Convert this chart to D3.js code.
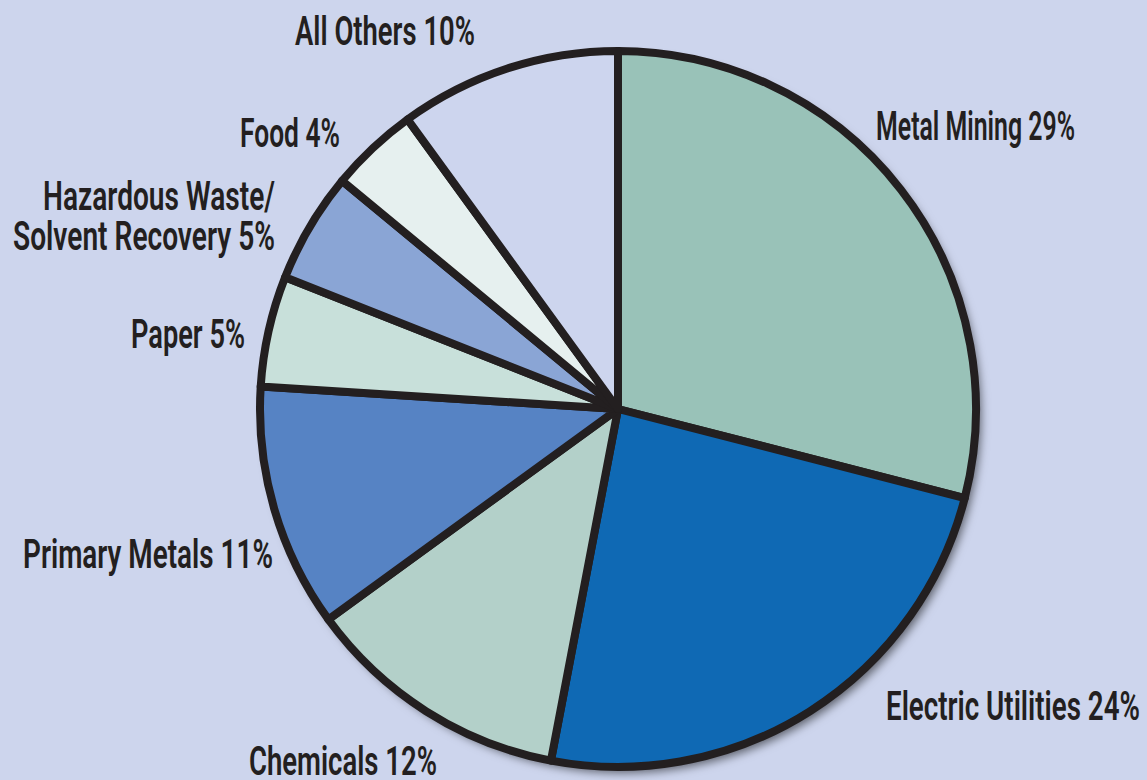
<!DOCTYPE html>
<html>
<head>
<meta charset="utf-8">
<script src="https://cdn.jsdelivr.net/npm/d3@7"></script>
<style>
  html, body { margin: 0; padding: 0; background: #cdd5ed; }
  svg { display: block; }
  .lbl { font-family: Roboto, "Liberation Sans", sans-serif; font-weight: 600; font-size: 40px; fill: #231f20; }
</style>
</head>
<body>
<div id="chart"></div>
<script>
// data, clockwise from 12 o'clock
const categories = ["Metal Mining", "Electric Utilities", "Chemicals", "Primary Metals",
                    "Paper", "Hazardous Waste/Solvent Recovery", "Food", "All Others"];
const shares = [29, 24, 12, 11, 5, 5, 4, 10];
const colors = ["#99c2b8", "#0f69b4", "#b3d0c9", "#5683c4", "#c8e0da", "#8aa5d5", "#e6f0ef", "#cdd5ee"];

// label lines as drawn (right edge x, baseline y, fitted width)
const labelLayout = [
  { lines: ["Metal Mining 29%"], x: 1075, y: 140, w: [199] },
  { lines: ["Electric Utilities 24%"], x: 1140, y: 720, w: [254] },
  { lines: ["Chemicals 12%"], x: 437, y: 775, w: [188] },
  { lines: ["Primary Metals 11%"], x: 273, y: 568, w: [250] },
  { lines: ["Paper 5%"], x: 245, y: 348, w: [114] },
  { lines: ["Hazardous Waste/", "Solvent Recovery 5%"], x: 275, y: 210, w: [232, 262] },
  { lines: ["Food 4%"], x: 340, y: 147, w: [100] },
  { lines: ["All Others 10%"], x: 475, y: 45, w: [180] }
];

const width = 1147, height = 780;
const cx = 618, cy = 409, radius = 358;

const svg = d3.select("#chart").append("svg")
    .attr("width", width)
    .attr("height", height);

svg.append("rect").attr("width", width).attr("height", height).attr("fill", "#cdd5ed");

const defs = svg.append("defs");
const filt = defs.append("filter").attr("id", "shadow")
    .attr("x", "-10%").attr("y", "-10%").attr("width", "130%").attr("height", "130%");
filt.append("feDropShadow")
    .attr("dx", 5).attr("dy", 6).attr("stdDeviation", 5)
    .attr("flood-color", "#000").attr("flood-opacity", 0.55);

const g = svg.append("g").attr("transform", `translate(${cx},${cy})`);

const pie = d3.pie().sort(null).value(d => d);
const arcs = pie(shares);
const arc = d3.arc().innerRadius(0).outerRadius(radius);

// shadow under the whole disc
g.append("circle").attr("r", radius).attr("fill", "#231f20").attr("filter", "url(#shadow)");

g.selectAll("path.slice")
    .data(arcs)
    .enter()
    .append("path")
    .attr("class", "slice")
    .attr("d", arc)
    .attr("fill", (d, i) => colors[i])
    .attr("stroke", "#231f20")
    .attr("stroke-width", 8)
    .attr("stroke-linejoin", "round");

// labels
labelLayout.forEach((l, i) => {
    l.lines.forEach((line, j) => {
        svg.append("text")
            .attr("class", "lbl")
            .attr("x", l.x)
            .attr("y", l.y + j * 40)
            .attr("text-anchor", "end")
            .attr("textLength", l.w[j])
            .attr("lengthAdjust", "spacingAndGlyphs")
            .text(line);
    });
});
</script>
</body>
</html>
